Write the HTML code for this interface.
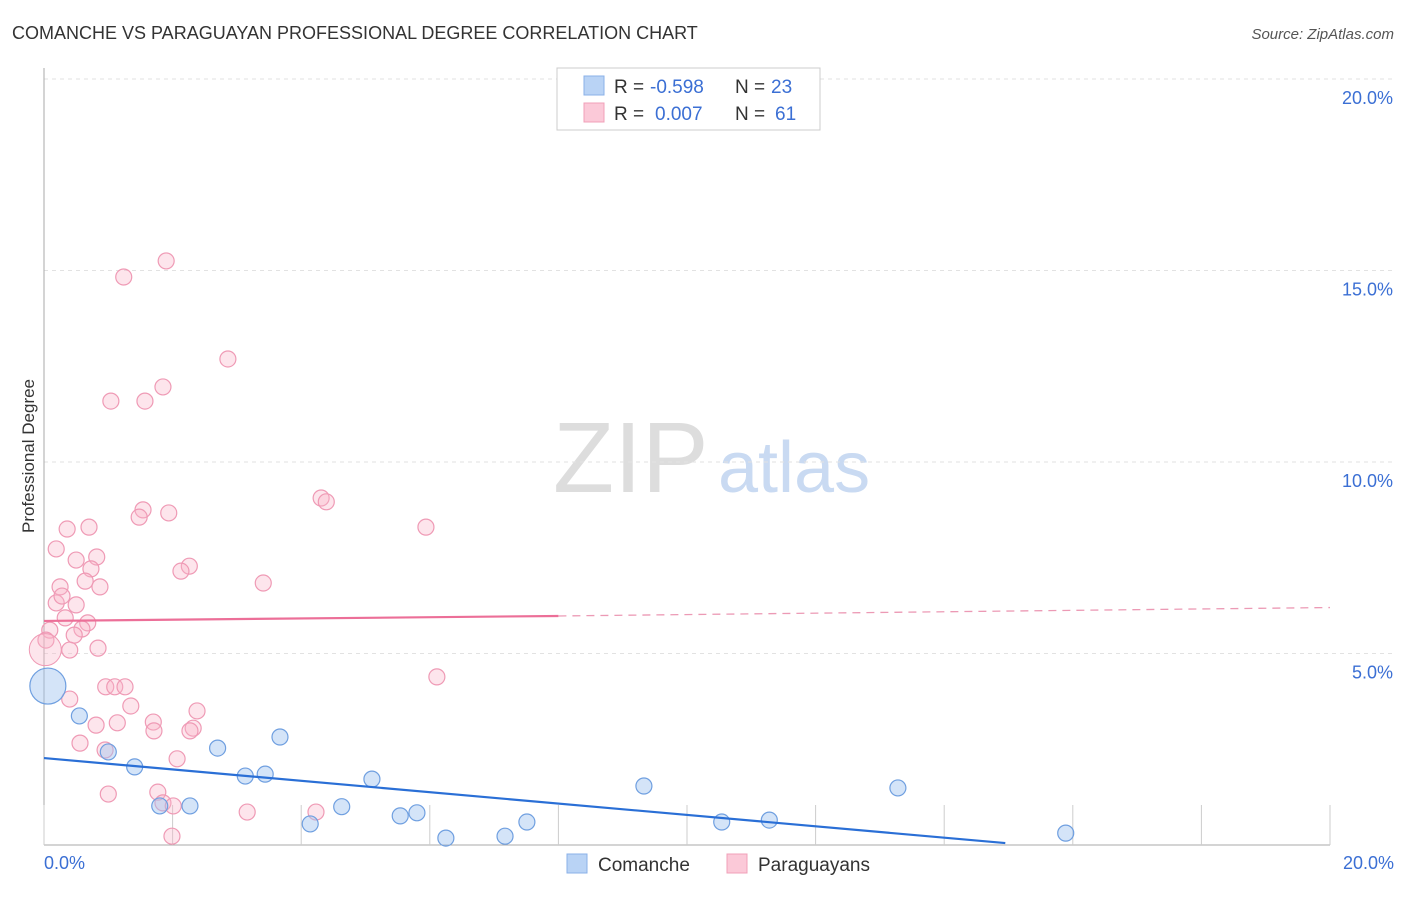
<!DOCTYPE html>
<html><head><meta charset="utf-8"><style>
body{margin:0;background:#fff;font-family:"Liberation Sans",sans-serif;}
svg text{font-family:"Liberation Sans",sans-serif;}
</style></head><body>
<svg id="chart" width="1406" height="892" xmlns="http://www.w3.org/2000/svg">
<text x="12" y="39" font-size="18" fill="#333">COMANCHE VS PARAGUAYAN PROFESSIONAL DEGREE CORRELATION CHART</text>
<text x="1394" y="39" font-size="15" fill="#555" font-style="italic" text-anchor="end">Source: ZipAtlas.com</text>
<text x="34" y="456" font-size="17" fill="#333" text-anchor="middle" transform="rotate(-90 34 456)">Professional Degree</text>
<text x="553" y="492" font-size="100" fill="#ddd" font-family="Liberation Serif">ZIP</text>
<text x="718" y="492" font-size="72" fill="#c9daf2">atlas</text>
<g id="grid"></g><g id="marks"></g>
<g>
<rect x="557" y="68" width="263" height="62" fill="#fff" stroke="#ccc"/>
<rect x="584" y="76" width="20" height="19" fill="#b9d3f5" stroke="#8ab0e8"/>
<rect x="584" y="103" width="20" height="19" fill="#fbc9d8" stroke="#f0a0b8"/>
<text x="614" y="93" font-size="19" fill="#333">R =</text>
<text x="650" y="93" font-size="19" fill="#3b6fd4">-0.598</text>
<text x="735" y="93" font-size="19" fill="#333">N =</text>
<text x="771" y="93" font-size="19" fill="#3b6fd4">23</text>
<text x="614" y="120" font-size="19" fill="#333">R =</text>
<text x="655" y="120" font-size="19" fill="#3b6fd4">0.007</text>
<text x="735" y="120" font-size="19" fill="#333">N =</text>
<text x="775" y="120" font-size="19" fill="#3b6fd4">61</text>
</g>
<g>
<rect x="567" y="854" width="20" height="19" fill="#b9d3f5" stroke="#8ab0e8"/>
<text x="598" y="871" font-size="19" fill="#333">Comanche</text>
<rect x="727" y="854" width="20" height="19" fill="#fbc9d8" stroke="#f0a0b8"/>
<text x="758" y="871" font-size="19" fill="#333">Paraguayans</text>
</g>
</svg>
<script>
const yTicks=[5,10,15,20];
const yTickLabels=["5.0%","10.0%","15.0%","20.0%"];
const xTickLabels=["0.0%","20.0%"];
const comancheX=[0.06,0.55,1.0,1.41,1.80,2.27,2.70,3.13,3.44,3.67,4.14,4.63,5.10,5.54,5.80,6.25,7.17,7.51,9.33,10.54,11.28,13.28,15.89];
const comancheY=[4.15,3.37,2.43,2.04,1.02,1.02,2.53,1.80,1.85,2.82,0.55,1.00,1.72,0.76,0.84,0.18,0.23,0.60,1.54,0.60,0.65,1.49,0.31];
const comancheR=[18,8,8,8,8,8,8,8,8,8,8,8,8,8,8,8,8,8,8,8,8,8,8];
const paraX=[1.90,1.24,2.86,1.85,1.04,1.57,4.31,4.39,1.54,1.48,1.94,5.94,0.36,0.70,0.19,0.82,0.50,0.73,2.26,2.13,3.41,0.25,0.64,0.87,0.19,0.50,0.28,0.33,0.68,0.59,0.47,0.09,0.03,0.40,0.84,6.11,0.96,1.10,1.26,0.40,2.38,1.35,1.70,1.14,0.81,2.32,2.27,1.71,0.56,0.95,2.07,1.00,1.77,1.85,2.01,4.23,3.16,1.99];
const paraY=[15.25,14.83,12.69,11.96,11.59,11.59,9.06,8.96,8.75,8.56,8.67,8.30,8.25,8.30,7.73,7.52,7.44,7.21,7.28,7.15,6.84,6.74,6.89,6.74,6.32,6.27,6.50,5.93,5.80,5.64,5.48,5.61,5.35,5.09,5.14,4.39,4.13,4.13,4.13,3.81,3.50,3.63,3.21,3.19,3.13,3.05,2.98,2.98,2.66,2.48,2.25,1.33,1.38,1.10,1.02,0.86,0.86,0.23];
const paraR=[8,8,8,8,8,8,8,8,8,8,8,8,8,8,8,8,8,8,8,8,8,8,8,8,8,8,8,8,8,8,8,8,8,8,8,8,8,8,8,8,8,8,8,8,8,8,8,8,8,8,8,8,8,8,8,8,8,8];
const comancheLine=[[0,2.27],[14.95,0.05]];
const paraLineSolid=[[0,5.85],[8.0,5.98]];
const paraLineDash=[[8.0,5.98],[20,6.2]];
const X0=44,X1=1330,Y0=845,PX=38.3;
const sx=v=>X0+(X1-X0)*v/20, sy=v=>Y0-v*PX;
const NS="http://www.w3.org/2000/svg";
const grid=document.getElementById('grid'), marks=document.getElementById('marks');
function mk(p,tag,a){const e=document.createElementNS(NS,tag);for(const k in a)e.setAttribute(k,a[k]);p.appendChild(e);return e;}
yTicks.forEach((t,i)=>{
 const l=mk(grid,'line',{x1:X0,x2:1394,y1:sy(t),y2:sy(t),stroke:'#e2e2e2','stroke-dasharray':'4,4'});
 
 
 const tx=mk(grid,'text',{x:1393,y:sy(t)+25,'font-size':18,fill:'#3b6fd4','text-anchor':'end'});tx.textContent=yTickLabels[i];
 
 
});
const ax=mk(grid,'line',{x1:X0,x2:X0,y1:68,y2:Y0,stroke:'#aaa'});


const bx=mk(grid,'line',{x1:X0,x2:X1,y1:Y0,y2:Y0,stroke:'#aaa'});


for(let i=0;i<=10;i++){const t=mk(grid,'line',{x1:sx(i*2),x2:sx(i*2),y1:Y0,y2:Y0-40,stroke:'#ccc'});
 
 }
[[0,'start',X0],[1,'end',1394]].forEach(([i,an,x])=>{const t=mk(grid,'text',{x:x,y:869,'font-size':18,fill:'#3b6fd4','text-anchor':an});t.textContent=xTickLabels[i];
 
 });
paraX.forEach((x,i)=>{const c=mk(marks,'circle',{cx:sx(x),cy:sy(paraY[i]),r:paraR[i],fill:'rgba(248,180,200,0.35)',stroke:'#ef9ab5','stroke-width':1.2});
 
 });
const pb=mk(marks,'circle',{cx:sx(0.02),cy:sy(5.1),r:16,fill:'rgba(248,180,200,0.35)',stroke:'#ef9ab5'});


comancheX.forEach((x,i)=>{const c=mk(marks,'circle',{cx:sx(x),cy:sy(comancheY[i]),r:comancheR[i],fill:'rgba(160,195,240,0.45)',stroke:'#6f9fe0','stroke-width':1.2});
 
 });
function line(pts,col,dash,name){const l=mk(marks,'line',{x1:sx(pts[0][0]),y1:sy(pts[0][1]),x2:sx(pts[1][0]),y2:sy(pts[1][1]),stroke:col,'stroke-width':dash?1.3:2.2});
 if(dash)l.setAttribute('stroke-dasharray','8,6');
 
 }
line(paraLineSolid,'#ec6f98',false,'paraguayan-trendline');
line(paraLineDash,'#ec9ab5',true,'paraguayan-trendline-extension');
line(comancheLine,'#2a6fd6',false,'comanche-trendline');
</script>
</body></html>
